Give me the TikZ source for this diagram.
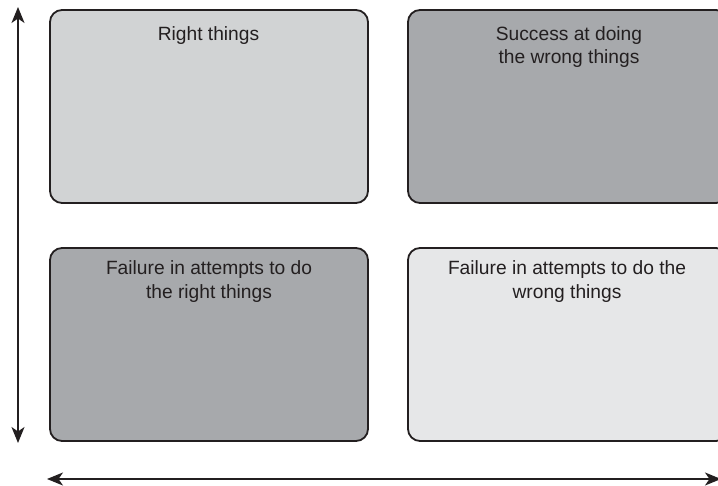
\documentclass[tikz,border=0pt]{standalone}
\usepackage{fontspec}
\setmainfont{Liberation Sans}
\usetikzlibrary{arrows.meta}
\definecolor{ink}{HTML}{231F20}
\definecolor{paleA}{HTML}{D1D3D4}
\definecolor{midA}{HTML}{A7A9AC}
\definecolor{paleB}{HTML}{E6E7E8}
\begin{document}
\begin{tikzpicture}[x=1pt,y=-1pt,
  quad/.style={draw=ink, line width=1.8pt, rounded corners=12pt},
  label/.style={anchor=north, inner sep=0pt, align=center, text=ink,
    font=\fontsize{19.2}{23.5}\selectfont},
  axis/.style={draw=ink, line width=1.8pt,
    {Stealth[length=16pt,width=13pt,inset=4.5pt]}-{Stealth[length=16pt,width=13pt,inset=4.5pt]}}]
\useasboundingbox (0,0) rectangle (718,486);
\clip (0,0) rectangle (718,486);

% quadrants
\draw[quad, fill=paleA] (50,10) rectangle (368,203);
\draw[quad, fill=midA]  (408,10) rectangle (728,203);
\draw[quad, fill=midA]  (50,248) rectangle (368,441);
\draw[quad, fill=paleB] (408,248) rectangle (728,441);

% quadrant captions
\node[label] (tl) at (208.5,26) {Right things};
\node[label] (tr) at (569,26) {Success at doing\\ the wrong things};
\node[label] (bl) at (209,260.5) {Failure in attempts to do\\the right things};
\node[label] (br) at (567,260.5) {Failure in attempts to do the\\wrong things};

% axes
\coordinate (vtop) at (18,7);
\coordinate (vbot) at (18,443);
\coordinate (hleft) at (47,479);
\coordinate (hright) at (721,479);
\draw[axis] (vtop) -- (vbot);
\draw[axis] (hleft) -- (hright);
\end{tikzpicture}
\end{document}
